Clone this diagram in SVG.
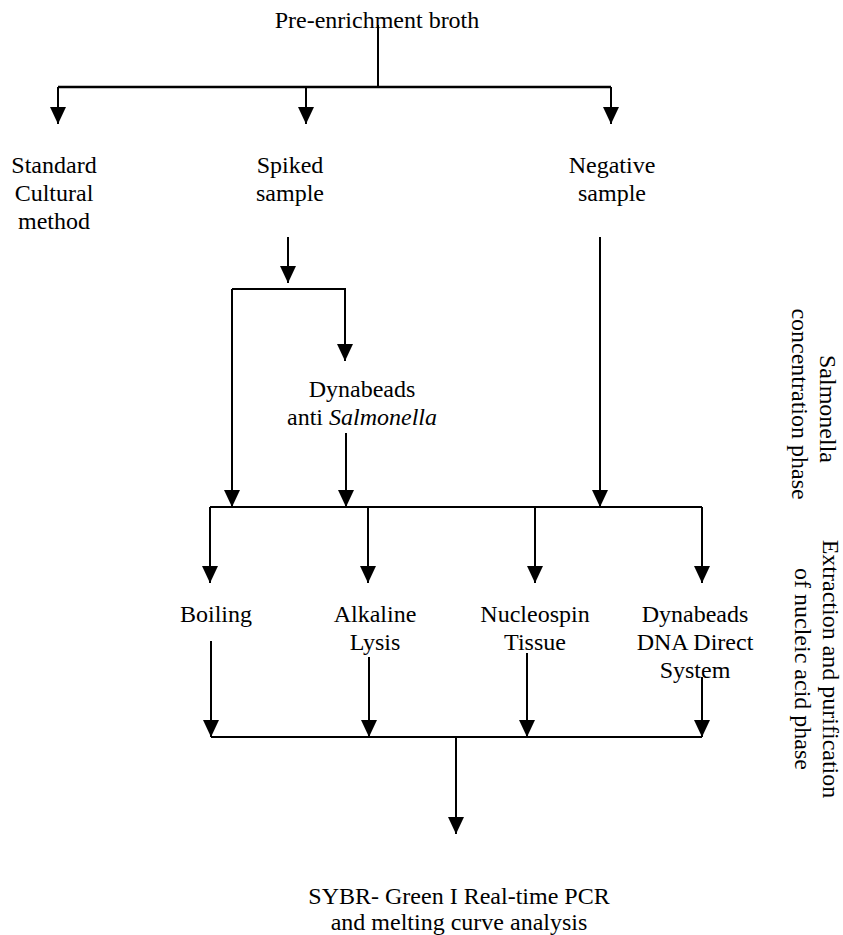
<svg xmlns="http://www.w3.org/2000/svg" width="843" height="935" viewBox="0 0 843 935">
<style>
text{font-family:"Liberation Serif","Times New Roman",serif;font-size:24px;fill:#000;text-anchor:middle}
.c{fill:none;stroke:#000;stroke-width:2}
.a{marker-end:url(#ah)}
</style>
<defs>
<marker id="ah" viewBox="0 0 17 16" refX="17" refY="8" markerWidth="17" markerHeight="16" markerUnits="userSpaceOnUse" orient="auto">
<path d="M0,0 L17,8 L0,16 z" fill="#000"/>
</marker>
</defs>
<rect width="843" height="935" fill="#fff"/>
<g id="connectors">
<path class="c" d="M378,25 V87"/>
<path class="c" d="M58,87 H611" style="stroke-width:2.5"/>
<path class="c a" d="M58,87 V124"/>
<path class="c a" d="M306,87 V124"/>
<path class="c a" d="M611,87 V124"/>
<path class="c a" d="M288,237 V283"/>
<path class="c a" d="M232,289 V507"/>
<path class="c a" d="M232,289 H345 V361"/>
<path class="c a" d="M346,433 V507"/>
<path class="c a" d="M600,237 V507"/>
<path class="c" d="M210,507 H702"/>
<path class="c a" d="M210,507 V583"/>
<path class="c a" d="M368,507 V583"/>
<path class="c a" d="M535,507 V583"/>
<path class="c a" d="M702,507 V583"/>
<path class="c a" d="M211,641 V737"/>
<path class="c a" d="M369,657 V737"/>
<path class="c a" d="M527,653 V737"/>
<path class="c a" d="M702,677 V737"/>
<path class="c" d="M211,737 H702"/>
<path class="c a" d="M456,737 V834"/>
</g>
<g id="pre-enrichment"><text x="377" y="28">Pre-enrichment broth</text></g>
<g id="standard"><text x="54" y="173">Standard</text><text x="54" y="201">Cultural</text><text x="54" y="229">method</text></g>
<g id="spiked"><text x="290" y="173">Spiked</text><text x="290" y="201">sample</text></g>
<g id="negative"><text x="612" y="173">Negative</text><text x="612" y="201">sample</text></g>
<g id="dynabeads-anti"><text x="362" y="397">Dynabeads</text><text x="362" y="425">anti <tspan font-style="italic">Salmonella</tspan></text></g>
<g id="boiling"><text x="216" y="622">Boiling</text></g>
<g id="alkaline"><text x="375" y="622">Alkaline</text><text x="375" y="650">Lysis</text></g>
<g id="nucleospin"><text x="535" y="622">Nucleospin</text><text x="535" y="650">Tissue</text></g>
<g id="dynabeads-dna"><text x="695" y="622">Dynabeads</text><text x="695" y="650">DNA Direct</text><text x="695" y="678">System</text></g>
<g id="sybr"><text x="459" y="904">SYBR- Green I Real-time PCR</text><text x="459" y="930">and melting curve analysis</text></g>
<g id="phase-concentration" transform="rotate(90)"><text x="409" y="-820">Salmonella</text><text x="404" y="-792">concentration phase</text></g>
<g id="phase-extraction" transform="rotate(90)"><text x="669" y="-823">Extraction and purification</text><text x="669" y="-795">of nucleic acid phase</text></g>
</svg>
